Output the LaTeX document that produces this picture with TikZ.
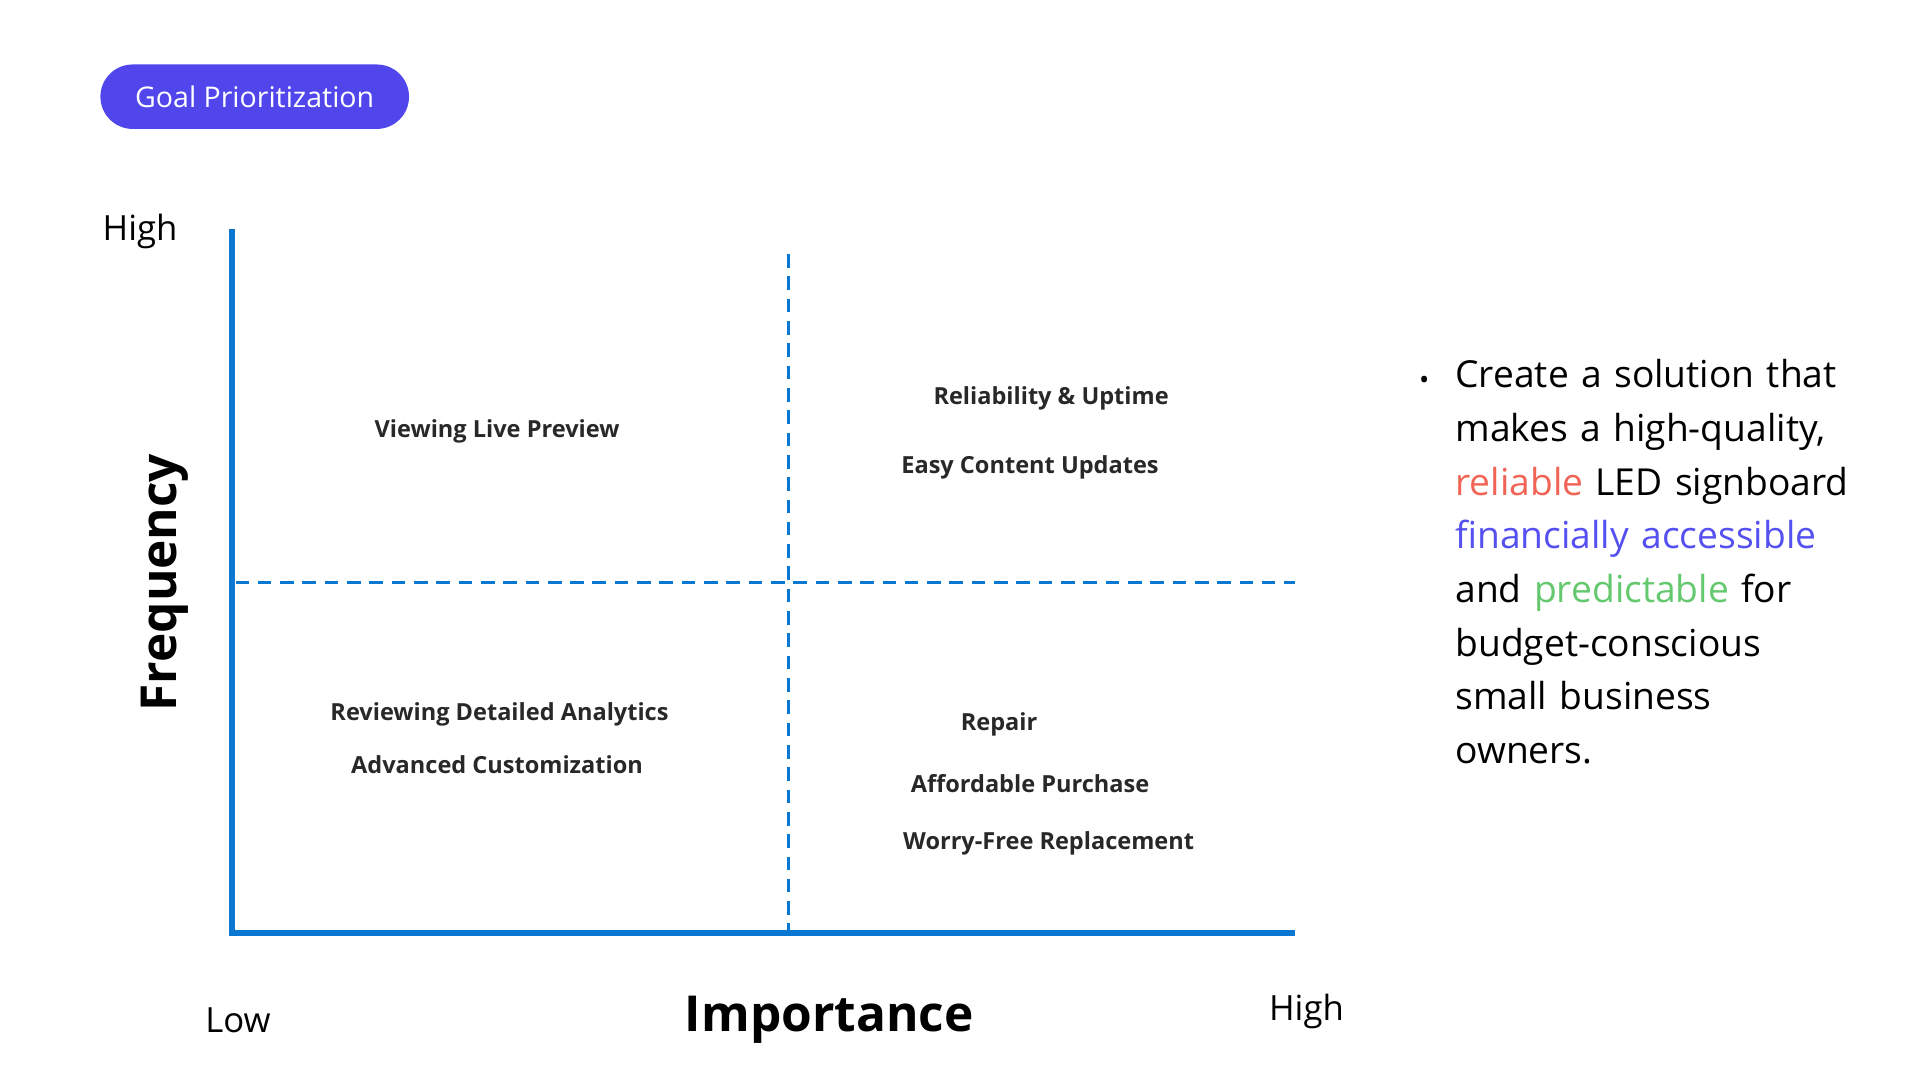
\documentclass[tikz,border=0pt]{standalone}
\usepackage{fontspec}
\setmainfont{Open Sans}
\begin{document}
\begin{tikzpicture}[x=1pt,y=-1pt,
 ax/.style={line width=5pt,draw={rgb,255:red,10;green,120;blue,210}},
 dsh/.style={line width=2.6pt,draw={rgb,255:red,10;green,120;blue,210},dash pattern=on 11pt off 7pt},
 q/.style={font=\fontsize{19}{24}\selectfont\bfseries,text={rgb,255:red,40;green,40;blue,40}},
 lab/.style={font=\fontsize{28}{34}\selectfont,text=black}]
\useasboundingbox (0,0) rectangle (1549,871);
\node[fill={rgb,255:red,80;green,70;blue,235},rounded corners=26pt,minimum width=249pt,minimum height=52pt,text=white,font=\fontsize{23}{28}\selectfont] (t) at (205.5,78) {Goal Prioritization};
\coordinate (o) at (187,753); \coordinate (yt) at (187,185); \coordinate (xe) at (1045,753);
\draw[ax] (yt) -- (o) -- (xe);
\coordinate (v1) at (636,205); \coordinate (v2) at (636,753);
\coordinate (h1) at (190,470); \coordinate (h2) at (1045,470);
\draw[dsh] (v1) -- (v2);
\draw[dsh] (h1) -- (h2);
\node[lab] (hy) at (113,187) {High};
\node[lab] (lo) at (192,823) {Low};
\node[lab] (hx) at (1054,816) {High};
\node[font=\fontsize{40}{48}\selectfont\bfseries] (imp) at (669,823) {Importance};
\node[font=\fontsize{40}{48}\selectfont\bfseries,rotate=90] (fr) at (133,470) {Frequency};
\node[q] (a) at (401,348) {Viewing Live Preview};
\node[q] (b) at (848,321) {Reliability \& Uptime};
\node[q] (c) at (831,377) {Easy Content Updates};
\node[q] (d) at (403,576) {Reviewing Detailed Analytics};
\node[q] (e) at (401,617) {Advanced Customization};
\node[q] (f) at (806,584) {Repair};
\node[q] (g) at (831,632) {Affordable Purchase};
\node[q] (h) at (846,680) {Worry-Free Replacement};
\node[anchor=north west,align=left,text width=340pt,font=\fontsize{30}{43.3}\selectfont,inner sep=0pt] (txt) at (1174,290)
{Create a solution that\\makes a high-quality,\\\textcolor[RGB]{240,100,85}{reliable} LED signboard\\\textcolor[RGB]{85,80,240}{financially accessible}\\and \textcolor[RGB]{100,200,110}{predictable} for\\budget-conscious\\small business\\owners.};
\node[font=\fontsize{22}{26}\selectfont] (bul) at (1149,309) {•};
\end{tikzpicture}
\end{document}
